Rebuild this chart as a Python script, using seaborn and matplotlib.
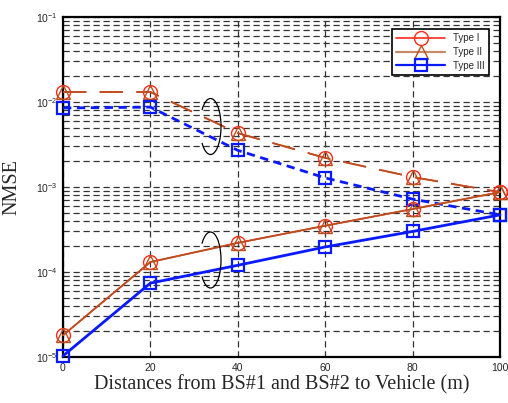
import matplotlib
matplotlib.use("Agg")
import matplotlib.pyplot as plt
import seaborn as sns
import pandas as pd
from matplotlib.lines import Line2D
from matplotlib.patches import Arc
from matplotlib.ticker import LogLocator, NullFormatter

# ---- data ----
distances = [0, 20, 40, 60, 80, 100]
type1_upper = [1.31e-2, 1.31e-2, 4.3e-3, 2.2e-3, 1.31e-3, 8.7e-4]
type2_upper = [1.31e-2, 1.31e-2, 4.3e-3, 2.2e-3, 1.31e-3, 8.7e-4]
type3_upper = [8.5e-3, 8.7e-3, 2.7e-3, 1.28e-3, 7.2e-4, 4.7e-4]
type1_lower = [1.8e-5, 1.31e-4, 2.2e-4, 3.5e-4, 5.5e-4, 8.7e-4]
type2_lower = [1.8e-5, 1.31e-4, 2.2e-4, 3.5e-4, 5.5e-4, 8.7e-4]
type3_lower = [1.03e-5, 7.4e-5, 1.2e-4, 1.97e-4, 3.0e-4, 4.7e-4]
labels = ["Type I", "Type II", "Type III"]

sns.set_style("white")
plt.rcParams['font.family'] = ['Liberation Sans', 'DejaVu Sans']
plt.rcParams['mathtext.fontset'] = 'custom'
plt.rcParams['mathtext.rm'] = 'Liberation Sans'

fig = plt.figure(figsize=(5.08, 4.03), dpi=100)
ax = fig.add_axes([63/508, 1-357/403, 437/508, 340/403])

c1 = '#ff2a1a'
c2 = '#b8501e'
c3 = '#0a1aff'

def draw(y, color, lw, marker, ms, mew, dashes=None):
    df = pd.DataFrame({"x": distances, "y": y})
    sns.lineplot(data=df, x="x", y="y", ax=ax, color=color, lw=lw,
                 marker=marker, markersize=ms, markerfacecolor='none',
                 markeredgecolor=color, markeredgewidth=mew, zorder=3)
    line = ax.lines[-1]
    line.set_clip_on(False)
    if dashes is not None:
        line.set_dashes(dashes)

draw(type1_upper, c1, 1.2, 'o', 10, 1.0, dashes=(14, 8))
draw(type2_upper, c2, 1.2, '^', 10, 1.0, dashes=(14, 8))
draw(type3_upper, c3, 2.0, 's', 9, 1.6, dashes=(3, 2))
draw(type1_lower, c1, 1.2, 'o', 10, 1.0)
draw(type2_lower, c2, 1.2, '^', 10, 1.0)
draw(type3_lower, c3, 2.0, 's', 9, 1.6)

ax.set_yscale('log')
ax.set_xlim(0, 100)
ax.set_ylim(1e-5, 1e-1)
ax.set_xticks(distances)
ax.yaxis.set_major_locator(LogLocator(base=10, numticks=10))
ax.yaxis.set_minor_locator(LogLocator(base=10, subs=range(2, 10), numticks=100))
ax.yaxis.set_minor_formatter(NullFormatter())

ax.grid(True, which='major', axis='both', ls=(0, (5, 3)), color='#333333', lw=0.9)
ax.grid(True, which='minor', axis='y', ls=(0, (5, 3)), color='#333333', lw=0.9)
ax.tick_params(axis='both', which='both', length=0, labelsize=7.5, pad=4)
for s in ax.spines.values():
    s.set_color('black')
    s.set_linewidth(1.6)
    s.set_zorder(2.5)

ax.set_xlabel("Distances from BS#1 and BS#2 to Vehicle (m)", family='Liberation Serif', fontsize=14.5, labelpad=2)
ax.set_ylabel("NMSE", family='Liberation Serif', fontsize=14.5, labelpad=10)

# ellipse annotations (axes fraction)
W, H = 437.0, 340.0
def ell(cx, cy, w, h):
    a = Arc(((cx-63)/W, (357-cy)/H), w/W, h/H, theta1=-112, theta2=112,
            transform=ax.transAxes, color='black', lw=0.9, zorder=5)
    ax.add_patch(a)
ell(210.5, 126.5, 21, 56)
ell(210.5, 260, 21, 56)

handles = [
    Line2D([], [], color=c1, lw=1.2, marker='o', ms=10, mfc='none', mec=c1),
    Line2D([], [], color='#c88a66', lw=1.6, marker='^', ms=10, mfc='none', mec=c2),
    Line2D([], [], color=c3, lw=1.6, marker='s', ms=8, mfc='none', mec=c3, mew=1.6),
]
leg = ax.legend(handles, labels, loc='upper right', bbox_to_anchor=(0.985, 0.98),
                fontsize=7, frameon=True, fancybox=False, edgecolor='black',
                framealpha=1, handlelength=5.0, borderpad=0.45, labelspacing=0.4)
leg.get_frame().set_linewidth(1.2)
leg.set_zorder(6)

fig.savefig("out.png", dpi=100)
